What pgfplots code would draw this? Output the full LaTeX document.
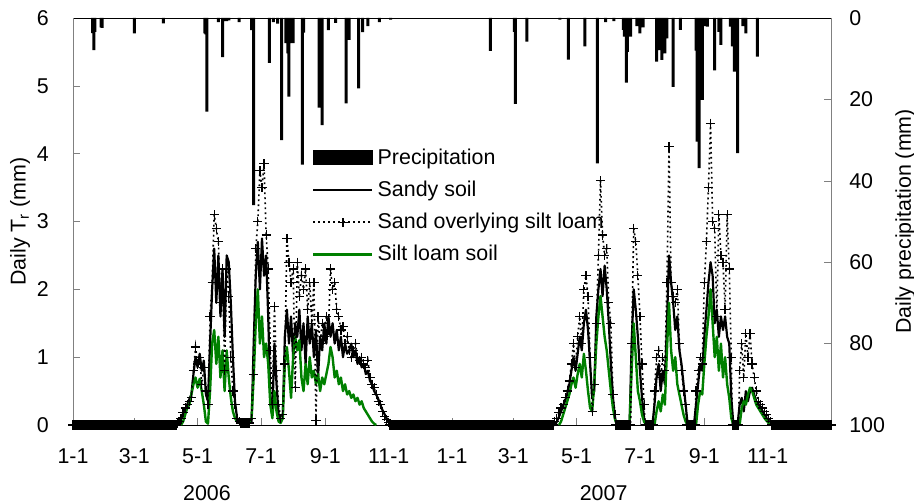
\documentclass[border=0pt]{standalone}
\usepackage{fontspec}
\setmainfont{Liberation Sans}
\usepackage{pgfplots}
\pgfplotsset{compat=1.18}
\definecolor{siltgreen}{RGB}{0,128,0}
\definecolor{axgray}{RGB}{128,128,128}
\newcommand{\chartfont}{\fontsize{10.7}{12.8}\selectfont}
\begin{document}
\chartfont
\begin{tikzpicture}
\pgfplotsset{
  common/.style={
    scale only axis, width=379pt, height=203.5pt,
    xmin=0, xmax=730,
    tick align=inside, major tick length=3.5pt,
    /pgf/number format/assume math mode=true,
    tick label style={font=\chartfont},
    label style={font=\chartfont},
  }
}
% ---------- precipitation (right axis, reversed) ----------
\begin{axis}[common,
  axis y line*=right, axis x line=none,
  y dir=reverse, ymin=0, ymax=100, ytick={0,20,40,60,80,100},
  y axis line style={axgray}, ytick style={axgray},
  yticklabel style={xshift=5.4pt},
  ylabel={Daily precipitation (mm)},
  ylabel style={at={(axis description cs:1.098,0.5)}, anchor=center},
]
\addplot[ybar, bar width=1.5pt, fill=black, draw=none] coordinates {
(19,3.7)(20,7.9)(21,3.4)(27,2.3)(28,2.4)(59,3.8)(87,1.3)(127,3.8)(128,4)(129,23)
(140,1)(144,9.6)(146,0.8)(148,0.8)(150,0.6)(160,1)(172,3)(174,46)(189,11)(193,1)
(197,1.4)(201,30)(205,6.2)(206,6)(207,8.7)(208,19.3)(209,6.2)(210,6)(211,5.5)(212,6.2)
(221,36)(222,3.6)(237,22)(240,26.3)(246,3)(253,1.2)(263,21)(266,5.4)(275,17.3)(279,3.5)
(284,2)(295,1)(306,0.4)
(402,8.1)(425,3.4)(426,21.1)(437,5.8)(469,0.4)(477,10.2)(493,7)(505,35.7)(513,1)(521,0.8)
(530,2.9)(531,4.6)(533,15.9)(534,8.3)(535,4.6)(537,4.6)(543,2)(546,3.8)(549,2.3)
(562,10.7)(564,6)(565,7.9)(567,10.3)(568,6)(570,8.7)(572,5)(578,16.9)(585,2.9)
(600,8)(601,30.4)(603,36.9)(604,10.3)(606,20.1)(608,2)(611,2.1)(618,12.9)(622,3.4)(624,6.6)
(633,2.1)(635,7)(637,13.2)(638,5)(640,33.2)(645,2)(648,3.8)(659,9.5)
};
\end{axis}
% ---------- transpiration (left axis) ----------
\begin{axis}[common, name=main,
  axis y line*=left, axis x line*=box, xtick pos=bottom,
  ymin=0, ymax=6, ytick={0,1,2,3,4,5,6},
  y axis line style={axgray}, ytick style={axgray},
  xtick={0,59,120,181,243,304,365,424,485,546,608,669},
  xticklabels={1-1,3-1,5-1,7-1,9-1,11-1,1-1,3-1,5-1,7-1,9-1,11-1},
  xticklabel style={yshift=-8pt},
  yticklabel style={xshift=-8.4pt},
  ylabel={Daily T\textsubscript{r} (mm)},
  ylabel style={at={(axis description cs:-0.0699,0.5)}, anchor=center},
  clip=false,
  legend style={draw=none, fill=none, at={(axis description cs:0.307,0.70)}, anchor=north west,
    font=\chartfont, row sep=2.75pt},
  legend cell align=left,
]
\addlegendimage{legend image code/.code={\fill[black] (0pt,-3.5pt) rectangle (29.5pt,3.5pt);}}
\addlegendentry{Precipitation}
\addlegendimage{legend image code/.code={\draw[black,line width=1.3pt] (0pt,0pt)--(29.5pt,0pt);}}
\addlegendentry{Sandy soil}
\addlegendimage{legend image code/.code={\draw[black,line width=0.8pt,dash pattern=on 0.9pt off 1.6pt] (0pt,0pt)--(29.5pt,0pt);
  \draw[black,line width=0.6pt] (14.75pt,-2.3pt)--(14.75pt,2.3pt) (12.45pt,0pt)--(17.05pt,0pt);}}
\addlegendentry{Sand overlying silt loam}
\addlegendimage{legend image code/.code={\draw[siltgreen,line width=1.3pt] (0pt,0pt)--(29.5pt,0pt);}}
\addlegendentry{Silt loam soil}
% Sandy soil
\addplot[forget plot, black, line width=1.1pt, line join=round] coordinates {
(0,0)(100,0)(102,0.03)(104,0.08)(106,0.15)(108,0.22)(110,0.3)(112,0.38)(114,0.45)(116,0.75)(118,1.0)(120,0.85)(122,1.05)(124,0.8)(126,0.95)(128,0.45)(130,0.35)(132,1.2)(134,2.0)(136,2.6)(138,1.8)(140,2.5)(142,1.6)(144,2.3)(146,1.3)(148,2.5)(150,2.4)(152,1.8)(154,1.0)(156,0.35)(158,0.1)(160,0.04)(170,0.03)(172,0.05)(174,1.2)(176,2.2)(178,2.7)(180,2.0)(182,2.75)(184,2.2)(186,2.5)(188,1.6)(190,0.4)(192,0.15)(194,1.2)(196,0.6)(198,0.15)(200,0.05)(202,0.1)(204,1.3)(206,1.7)(208,1.2)(210,1.6)(212,1.0)(214,1.5)(216,1.3)(218,1.7)(220,1.1)(222,1.5)(224,0.9)(226,1.6)(228,1.2)(230,1.5)(232,1.0)(234,1.4)(236,0.7)(238,1.3)(240,1.1)(242,1.5)(244,1.2)(246,1.6)(248,1.3)(250,1.5)(252,1.2)(254,1.4)(256,1.1)(258,1.3)(260,1.0)(262,1.2)(264,1.05)(266,1.1)(268,1.2)(270,1.0)(272,1.1)(274,0.9)(276,1.0)(278,0.85)(280,0.9)(282,0.75)(284,0.8)(286,0.65)(288,0.6)(290,0.5)(292,0.45)(294,0.38)(296,0.3)(298,0.22)(300,0.16)(302,0.1)(304,0.05)(306,0.02)(308,0)
(464,0)(466,0.05)(468,0.12)(470,0.2)(472,0.28)(474,0.36)(476,0.46)(478,0.6)(480,0.8)(482,1.0)(484,0.8)(486,1.05)(488,1.3)(490,1.1)(492,1.5)(494,1.7)(496,1.4)(498,0.9)(500,0.4)(502,0.5)(504,1.6)(506,2.0)(508,2.3)(510,1.9)(512,2.35)(514,2.0)(516,1.5)(518,0.9)(520,0.4)(522,0.1)(524,0)(536,0)(538,1.2)(540,2.0)(542,1.7)(544,1.3)(546,0.8)(548,0.4)(550,0.1)(552,0)(558,0)(560,0.3)(562,0.7)(564,0.9)(566,0.5)(568,0.8)(570,0.6)(572,1.5)(574,2.5)(576,2.1)(578,1.8)(580,1.4)(582,1.6)(584,1.1)(586,0.9)(588,0.6)(590,0.3)(592,0)(598,0)(600,0.3)(602,0.6)(604,0.9)(606,0.8)(608,1.3)(610,1.7)(612,2.1)(614,2.4)(616,2.2)(618,1.5)(620,1.7)(622,1.3)(624,1.6)(626,1.4)(628,1.6)(630,1.3)(632,1.2)(634,0.4)(636,0)(640,0)(642,0.3)(644,0.4)(646,0.2)(648,0.5)(650,0.35)(652,0.5)(654,0.55)(656,0.45)(658,0.35)(660,0.3)(662,0.25)(664,0.2)(666,0.15)(668,0.1)(670,0.05)(672,0.02)(674,0)(730,0)
};
% Silt loam soil
\addplot[forget plot, siltgreen, line width=1.2pt, line join=round] coordinates {
(104,0)(106,0.05)(108,0.15)(110,0.25)(112,0.3)(114,0.45)(116,0.6)(118,0.7)(120,0.55)(122,0.68)(124,0.5)(126,0.3)(128,0.05)(130,0.02)(132,0.5)(134,1.2)(136,1.4)(138,0.9)(140,1.3)(142,0.7)(144,1.1)(146,0.5)(148,1.1)(150,0.7)(152,0.4)(154,0.2)(156,0.1)(158,0.05)(160,0.03)(170,0.03)(172,0.1)(174,0.7)(176,1.5)(178,2.0)(180,1.2)(182,1.6)(184,1.0)(186,1.2)(188,0.9)(190,0.3)(192,0.1)(194,0.5)(196,0.2)(198,0.05)(200,0.03)(202,0.1)(204,0.9)(206,1.15)(208,0.8)(210,0.4)(212,1.0)(214,1.3)(216,1.1)(218,1.25)(220,0.7)(222,0.5)(224,0.9)(226,0.6)(228,1.0)(230,0.7)(232,0.8)(234,0.6)(236,0.75)(238,0.5)(240,0.7)(242,0.6)(244,0.75)(246,0.9)(248,1.15)(250,1.0)(252,0.7)(254,0.8)(256,0.6)(258,0.7)(260,0.5)(262,0.6)(264,0.45)(266,0.5)(268,0.4)(270,0.45)(272,0.35)(274,0.4)(276,0.3)(278,0.35)(280,0.25)(282,0.2)(284,0.15)(286,0.1)(288,0.05)(290,0.02)(292,0)
};
\addplot[forget plot, siltgreen, line width=1.2pt, line join=round] coordinates {
(468,0)(470,0.05)(472,0.15)(474,0.25)(476,0.35)(478,0.45)(480,0.6)(482,0.7)(484,0.55)(486,0.75)(488,0.9)(490,0.7)(492,1.05)(494,0.8)(496,0.5)(498,0.25)(500,0.2)(502,0.6)(504,1.2)(506,1.6)(508,1.9)(510,1.6)(512,1.3)(514,1.1)(516,0.8)(518,0.5)(520,0.25)(522,0.08)(524,0)(536,0)(538,0.8)(540,1.5)(542,1.0)(544,0.5)(546,0.35)(548,0.15)(550,0.05)(552,0)(560,0)(562,0.2)(564,0.35)(566,0.2)(568,0.45)(570,0.3)(572,1.1)(574,1.8)(576,1.1)(578,0.8)(580,1.0)(582,0.6)(584,0.45)(586,0.3)(588,0.15)(590,0.05)(592,0)(600,0)(602,0.3)(604,0.5)(606,0.45)(608,0.9)(610,1.3)(612,1.6)(614,2.0)(616,1.5)(618,1.0)(620,1.3)(622,0.8)(624,1.2)(626,0.7)(628,1.0)(630,0.6)(632,0.4)(634,0.1)(636,0)(642,0)(644,0.25)(646,0.35)(648,0.3)(650,0.45)(652,0.55)(654,0.5)(656,0.4)(658,0.3)(660,0.25)(662,0.2)(664,0.15)(666,0.1)(668,0.06)(670,0.03)(672,0)
};
% Sand overlying silt loam
\addplot[forget plot, black, line width=0.8pt, dash pattern=on 0.9pt off 1.6pt, mark=+, mark size=2.3pt, mark options={solid, line width=0.6pt}] coordinates {
(0,0)(1,0)(2,0)(3,0)(4,0)(5,0)(6,0)(7,0)(8,0)(9,0)(10,0)(11,0)(12,0)(13,0)(14,0)(15,0)(16,0)(17,0)(18,0)(19,0)(20,0)(21,0)(22,0)(23,0)(24,0)(25,0)(26,0)(27,0)(28,0)(29,0)(30,0)(31,0)(32,0)(33,0)(34,0)(35,0)(36,0)(37,0)(38,0)(39,0)(40,0)(41,0)(42,0)(43,0)(44,0)(45,0)(46,0)(47,0)(48,0)(49,0)(50,0)(51,0)(52,0)(53,0)(54,0)(55,0)(56,0)(57,0)(58,0)(59,0)(60,0)(61,0)(62,0)(63,0)(64,0)(65,0)(66,0)(67,0)(68,0)(69,0)(70,0)(71,0)(72,0)(73,0)(74,0)(75,0)(76,0)(77,0)(78,0)(79,0)(80,0)(81,0)(82,0)(83,0)(84,0)(85,0)(86,0)(87,0)(88,0)(89,0)(90,0)(91,0)(92,0)(93,0)(94,0)(95,0)(96,0)(97,0)(98,0)(99,0)(100,0)(101,0.02)
(102,0.05)(104,0.1)(106,0.18)(108,0.25)(110,0.3)(112,0.35)(114,0.4)(116,0.8)(118,1.15)(120,0.9)(122,1.0)(124,0.6)(126,0.85)(128,0.5)(130,0.3)(132,1.6)(134,2.1)(136,3.1)(138,2.9)(140,2.7)(142,1.8)(144,2.3)(146,0.8)(148,2.3)(150,1.9)(152,1.0)(154,0.5)(156,0.3)(158,0.1)(160,0.05)(161,0.03)(162,0.03)(163,0.03)(164,0.03)(165,0.03)(166,0.03)(167,0.03)(168,0.03)(169,0.03)(170,0.03)(172,0.1)(174,0.75)(176,2.6)(178,3.0)(180,3.75)(182,3.5)(184,3.85)(186,2.8)(188,2.3)(190,1.1)(192,0.3)(194,1.75)(196,0.8)(198,0.3)(200,0.1)(202,0.15)(204,0.9)(206,2.75)(208,2.4)(210,2.1)(212,2.3)(214,0.55)(216,2.4)(218,1.9)(220,2.2)(222,2.0)(224,2.3)(226,1.7)(228,2.1)(230,1.5)(232,2.1)(234,0.07)(236,1.6)(238,1.2)(240,1.5)(242,1.3)(244,1.6)(246,1.4)(248,2.3)(250,2.0)(252,2.1)(254,1.7)(256,1.6)(258,1.4)(260,1.45)(262,1.2)(264,1.3)(266,1.1)(268,1.0)(270,1.1)(272,1.2)(274,1.0)(276,0.95)(278,1.0)(280,0.9)(282,0.85)(284,0.95)(286,0.7)(288,0.6)(290,0.55)(292,0.45)(294,0.35)(296,0.3)(298,0.2)(300,0.12)(302,0.08)(304,0.04)
(305,0)(306,0)(307,0)(308,0)(309,0)(310,0)(311,0)(312,0)(313,0)(314,0)(315,0)(316,0)(317,0)(318,0)(319,0)(320,0)(321,0)(322,0)(323,0)(324,0)(325,0)(326,0)(327,0)(328,0)(329,0)(330,0)(331,0)(332,0)(333,0)(334,0)(335,0)(336,0)(337,0)(338,0)(339,0)(340,0)(341,0)(342,0)(343,0)(344,0)(345,0)(346,0)(347,0)(348,0)(349,0)(350,0)(351,0)(352,0)(353,0)(354,0)(355,0)(356,0)(357,0)(358,0)(359,0)(360,0)(361,0)(362,0)(363,0)(364,0)(365,0)(366,0)(367,0)(368,0)(369,0)(370,0)(371,0)(372,0)(373,0)(374,0)(375,0)(376,0)(377,0)(378,0)(379,0)(380,0)(381,0)(382,0)(383,0)(384,0)(385,0)(386,0)(387,0)(388,0)(389,0)(390,0)(391,0)(392,0)(393,0)(394,0)(395,0)(396,0)(397,0)(398,0)(399,0)(400,0)(401,0)(402,0)(403,0)(404,0)(405,0)(406,0)(407,0)(408,0)(409,0)(410,0)(411,0)(412,0)(413,0)(414,0)(415,0)(416,0)(417,0)(418,0)(419,0)(420,0)(421,0)(422,0)(423,0)(424,0)(425,0)(426,0)(427,0)(428,0)(429,0)(430,0)(431,0)(432,0)(433,0)(434,0)(435,0)(436,0)(437,0)(438,0)(439,0)(440,0)(441,0)(442,0)(443,0)(444,0)(445,0)(446,0)(447,0)(448,0)(449,0)(450,0)(451,0)(452,0)(453,0)(454,0)(455,0)(456,0)(457,0)(458,0)(459,0)(460,0)(461,0)(462,0)(463,0)
(464,0.05)(466,0.1)(468,0.18)(470,0.25)(472,0.3)(474,0.4)(476,0.5)(478,0.65)(480,0.9)(482,1.2)(484,0.85)(486,1.3)(488,1.6)(490,1.2)(492,2.0)(494,2.2)(496,1.9)(498,1.0)(500,0.2)(502,0.6)(504,1.5)(506,2.5)(508,3.6)(510,2.8)(512,2.5)(514,2.6)(516,1.8)(518,1.5)(520,0.45)(522,0.15)
(523,0)(524,0)(525,0)(526,0)(527,0)(528,0)(529,0)(530,0)(531,0)(532,0)(533,0)(534,0)(535,0)(536,0)(537,0)
(538,1.2)(540,2.9)(542,2.7)(544,2.2)(546,1.6)(548,0.9)(550,0.3)
(551,0)(552,0)(553,0)(554,0)(555,0)(556,0)(557,0)(558,0)(559,0)
(560,0.5)(562,1.0)(564,1.1)(566,0.7)(568,1.0)(570,0.8)(572,2.1)(574,4.1)(576,2.1)(578,1.9)(580,1.8)(582,2.0)(584,1.2)(586,0.8)(588,0.5)(590,0.3)
(591,0)(592,0)(593,0)(594,0)(595,0)(596,0)(597,0)(598,0)(599,0)
(600,0.5)(602,0.8)(604,1.0)(606,0.9)(608,2.1)(610,2.7)(612,3.5)(614,4.45)(616,3.0)(618,2.9)(620,1.6)(622,3.1)(624,2.5)(626,2.4)(628,1.7)(630,3.1)(632,2.3)(634,1.0)
(635,0)(636,0)(637,0)(638,0)(639,0)(640,0)(641,0)
(642,0.8)(644,1.2)(646,0.7)(648,1.35)(650,1.0)(652,1.35)(654,0.9)(656,0.7)(658,0.5)(660,0.35)(662,0.3)(664,0.25)(666,0.2)(668,0.15)(670,0.1)(672,0.05)
(673,0)(674,0)(675,0)(676,0)(677,0)(678,0)(679,0)(680,0)(681,0)(682,0)(683,0)(684,0)(685,0)(686,0)(687,0)(688,0)(689,0)(690,0)(691,0)(692,0)(693,0)(694,0)(695,0)(696,0)(697,0)(698,0)(699,0)(700,0)(701,0)(702,0)(703,0)(704,0)(705,0)(706,0)(707,0)(708,0)(709,0)(710,0)(711,0)(712,0)(713,0)(714,0)(715,0)(716,0)(717,0)(718,0)(719,0)(720,0)(721,0)(722,0)(723,0)(724,0)(725,0)(726,0)(727,0)(728,0)(729,0)(730,0)
};
\node[font=\chartfont] at (axis cs:129,0) [yshift=-34pt] {2006};
\node[font=\chartfont] at (axis cs:511,0) [yshift=-34pt] {2007};
\end{axis}
\pgfresetboundingbox
\path[use as bounding box] ([shift={(-36.5pt,-39.5pt)}]main.south west) rectangle ([shift={(41.5pt,9pt)}]main.north east);
\end{tikzpicture}
\end{document}
